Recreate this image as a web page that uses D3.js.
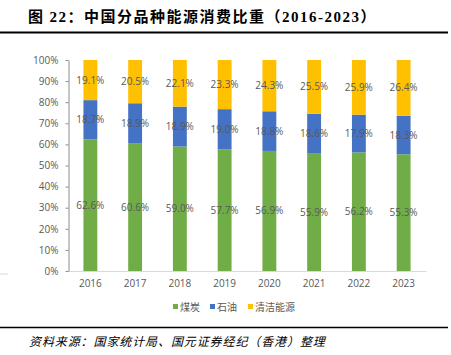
<!DOCTYPE html>
<html><head><meta charset="utf-8">
<script src="https://cdn.jsdelivr.net/npm/d3@7"></script>
<style>
html,body{margin:0;padding:0;background:#fff;}
svg{display:block;}
</style></head>
<body>
<svg id="chart" width="451" height="355"></svg>
<script>
const years = ["2016","2017","2018","2019","2020","2021","2022","2023"];
const coal  = [62.6, 60.6, 59.0, 57.7, 56.9, 55.9, 56.2, 55.3];
const oil   = [18.7, 18.9, 18.9, 19.0, 18.8, 18.6, 17.9, 18.3];
const clean = [19.1, 20.5, 22.1, 23.3, 24.3, 25.5, 25.9, 26.4];
const seriesNames = ["煤炭", "石油", "清洁能源"];
const seriesColors = ["#70AD47", "#4472C4", "#FFC000"];
const yTicks = [0,0.1,0.2,0.3,0.4,0.5,0.6,0.7,0.8,0.9,1.0];

const svg = d3.select("#chart");
const cjk = "'Noto Sans CJK SC','Noto Sans',sans-serif";
const lab = "'Open Sans','Liberation Sans',sans-serif";

// Title
const title = svg.append("text").attr("x", 28).attr("y", 22)
  .attr("font-size", 15).attr("font-weight", "bold").attr("fill", "#000")
  .attr("letter-spacing", 1.5).attr("font-family", cjk);
title.append("tspan").text("图 ");
title.append("tspan").attr("font-family", "'Liberation Serif',serif").text("22");
title.append("tspan").text("：中国分品种能源消费比重（");
title.append("tspan").attr("font-family", "'Liberation Serif',serif").text("2016-2023");
title.append("tspan").text("）");
svg.append("line").attr("x1", 0).attr("x2", 448).attr("y1", 32.5).attr("y2", 32.5)
  .attr("stroke", "#000").attr("stroke-width", 2);

// Scales
const x = d3.scaleBand().domain(years).range([68, 426]).paddingInner(0.69).paddingOuter(0.345);
const y = d3.scaleLinear().domain([0, 1]).range([271, 60]);

const rows = years.map((yr, i) => ({year: yr, "煤炭": coal[i], "石油": oil[i], "清洁能源": clean[i]}));
const stack = d3.stack().keys(seriesNames).offset(d3.stackOffsetExpand);
const layers = stack(rows);

// Bars
const g = svg.append("g");
layers.forEach((layer, li) => {
  g.selectAll(null).data(layer).enter().append("rect")
    .attr("x", d => x(d.data.year))
    .attr("width", x.bandwidth())
    .attr("y", d => y(d[1]))
    .attr("height", d => y(d[0]) - y(d[1]))
    .attr("fill", seriesColors[li]);
});

// X axis
const xAxis = svg.append("g").attr("transform", "translate(0,271)")
  .call(d3.axisBottom(x).tickSize(0).tickPadding(9));
xAxis.select(".domain").attr("stroke", "#d9d9d9").attr("stroke-width", 1.2);
xAxis.selectAll("text").attr("font-family", lab).attr("font-size", 10).attr("fill", "#595959");

// Y axis
const yAxis = svg.append("g").attr("transform", "translate(68.5,0)")
  .call(d3.axisLeft(y).tickValues(yTicks).tickFormat(d3.format(".0%")).tickSize(3).tickSizeOuter(0).tickPadding(7));
yAxis.select(".domain").attr("stroke", "#8c8c8c");
yAxis.selectAll(".tick line").attr("stroke", "#8c8c8c");
yAxis.selectAll("text").attr("font-family", lab).attr("font-size", 10).attr("fill", "#595959");

// Data labels
layers.forEach((layer, li) => {
  g.selectAll(null).data(layer).enter().append("text")
    .attr("x", d => x(d.data.year) + x.bandwidth() / 2)
    .attr("y", d => (y(d[0]) + y(d[1])) / 2)
    .attr("dy", "0.35em")
    .attr("text-anchor", "middle")
    .attr("font-family", lab).attr("font-size", 10).attr("fill", "#595959")
    .text(d => d.data[seriesNames[li]].toFixed(1) + "%");
});

// Small gray artifact line at left
svg.append("line").attr("x1", 0).attr("x2", 8).attr("y1", 274).attr("y2", 274)
  .attr("stroke", "#d9d9d9").attr("stroke-width", 1);

// Legend
const legendX = [173, 210, 248];
seriesNames.forEach((n, i) => {
  svg.append("rect").attr("x", legendX[i]).attr("y", 304).attr("width", 5).attr("height", 5)
    .attr("fill", seriesColors[i]);
  svg.append("text").attr("x", legendX[i] + 7).attr("y", 310.5)
    .attr("font-family", cjk).attr("font-size", 10).attr("fill", "#595959").text(n);
});

// Bottom rule and source
svg.append("line").attr("x1", 0).attr("x2", 448).attr("y1", 327.5).attr("y2", 327.5)
  .attr("stroke", "#000").attr("stroke-width", 1.5);
svg.append("text").attr("x", 29).attr("y", 346)
  .attr("font-family", cjk).attr("font-size", 12).attr("font-style", "italic")
  .attr("letter-spacing", 0.9).attr("fill", "#000")
  .text("资料来源：国家统计局、国元证券经纪（香港）整理");
</script>
</body></html>
